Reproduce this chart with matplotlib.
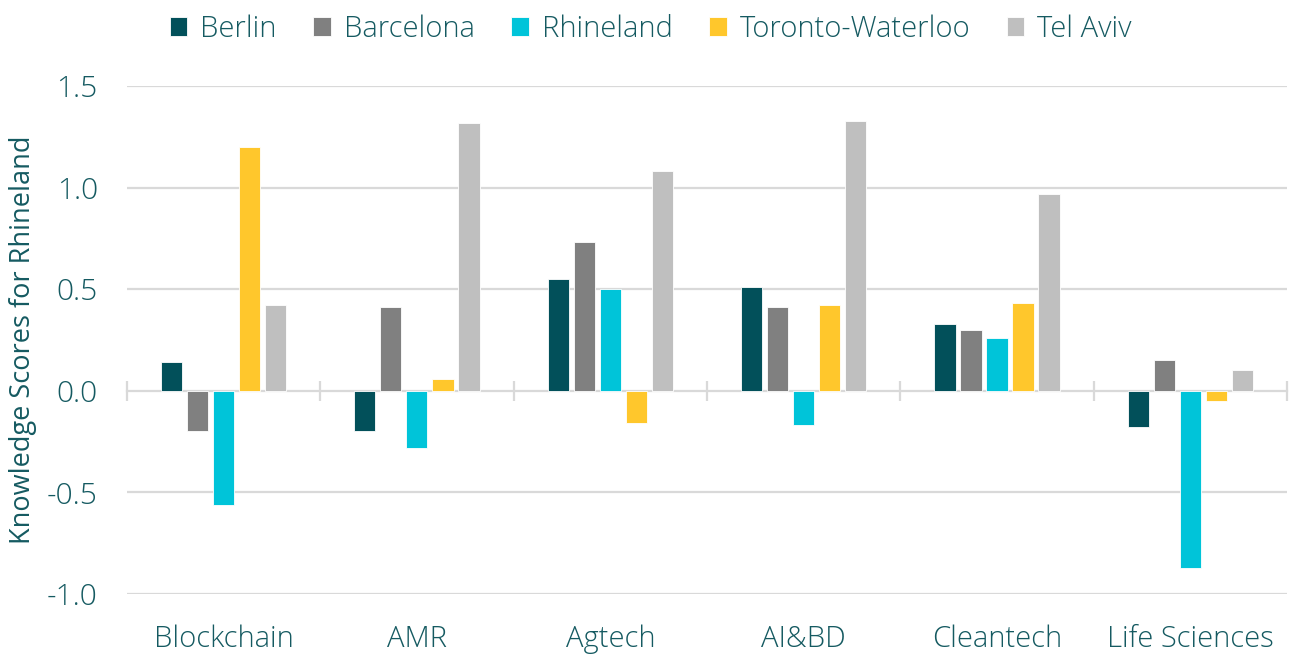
import numpy as np
import matplotlib.pyplot as plt

plt.rcParams["font.family"] = ["Open Sans", "DejaVu Sans"]
plt.rcParams["font.weight"] = "light"

TEXT = "#155a61"
GRID = "#d9d9d9"

categories = ["Blockchain", "AMR", "Agtech", "AI&BD", "Cleantech", "Life Sciences"]
series_names = ["Berlin", "Barcelona", "Rhineland", "Toronto-Waterloo", "Tel Aviv"]
colors = ["#02505a", "#808080", "#00c4d9", "#ffc72c", "#bfbfbf"]

berlin = [0.14, -0.20, 0.55, 0.51, 0.33, -0.18]
barcelona = [-0.20, 0.41, 0.73, 0.41, 0.30, 0.15]
rhineland = [-0.56, -0.28, 0.50, -0.17, 0.26, -0.87]
toronto = [1.20, 0.06, -0.16, 0.42, 0.43, -0.05]
tel_aviv = [0.42, 1.32, 1.08, 1.33, 0.97, 0.10]
series = [berlin, barcelona, rhineland, toronto, tel_aviv]

y_ticks = [-1.0, -0.5, 0.0, 0.5, 1.0, 1.5]

fig = plt.figure(figsize=(12.94, 6.55), dpi=100)
ax = fig.add_axes([0.0981, 0.0931, 0.8965, 0.7756])

x = np.arange(len(categories))
pitch = 0.1345
width = 0.109
for i, (name, vals, c) in enumerate(zip(series_names, series, colors)):
    ax.bar(x + (i - 2) * pitch, vals, width, color=c, label=name,
           edgecolor="white", linewidth=0.6, zorder=2)

ax.set_xlim(-0.5, len(categories) - 0.5)
ax.set_ylim(-1.0, 1.5)
ax.set_yticks(y_ticks)
ax.set_yticklabels([f"{v:.1f}" for v in y_ticks])
ax.set_xticks(x)
ax.set_xticklabels(categories)
ax.tick_params(axis="x", length=0, pad=22, labelsize=21, labelcolor=TEXT)
ax.tick_params(axis="y", length=0, pad=21, labelsize=21.5, labelcolor=TEXT)

for s in ax.spines.values():
    s.set_visible(False)

# horizontal gridlines (zero drawn by the secondary axis)
for v in y_ticks:
    if v != 0:
        ax.axhline(v, color=GRID, linewidth=1.6, zorder=0)

# zero line with category separators
sec = ax.secondary_xaxis(0.4)
sec.set_xticks(np.arange(-0.5, len(categories), 1.0))
sec.set_xticklabels([])
sec.tick_params(axis="x", direction="inout", length=14, width=1.6, color=GRID)
for s in sec.spines.values():
    s.set_color(GRID)
    s.set_linewidth(1.6)

ax.set_ylabel("Knowledge Scores for Rhineland", fontsize=19.5, color=TEXT, labelpad=7)

fig.legend(loc="upper center", bbox_to_anchor=(0.503, 1.018), ncol=5, frameon=False,
           fontsize=21, handlelength=0.6, handleheight=0.6, handletextpad=0.45,
           columnspacing=1.25, labelcolor=TEXT)

fig.savefig("out.png", dpi=100)
